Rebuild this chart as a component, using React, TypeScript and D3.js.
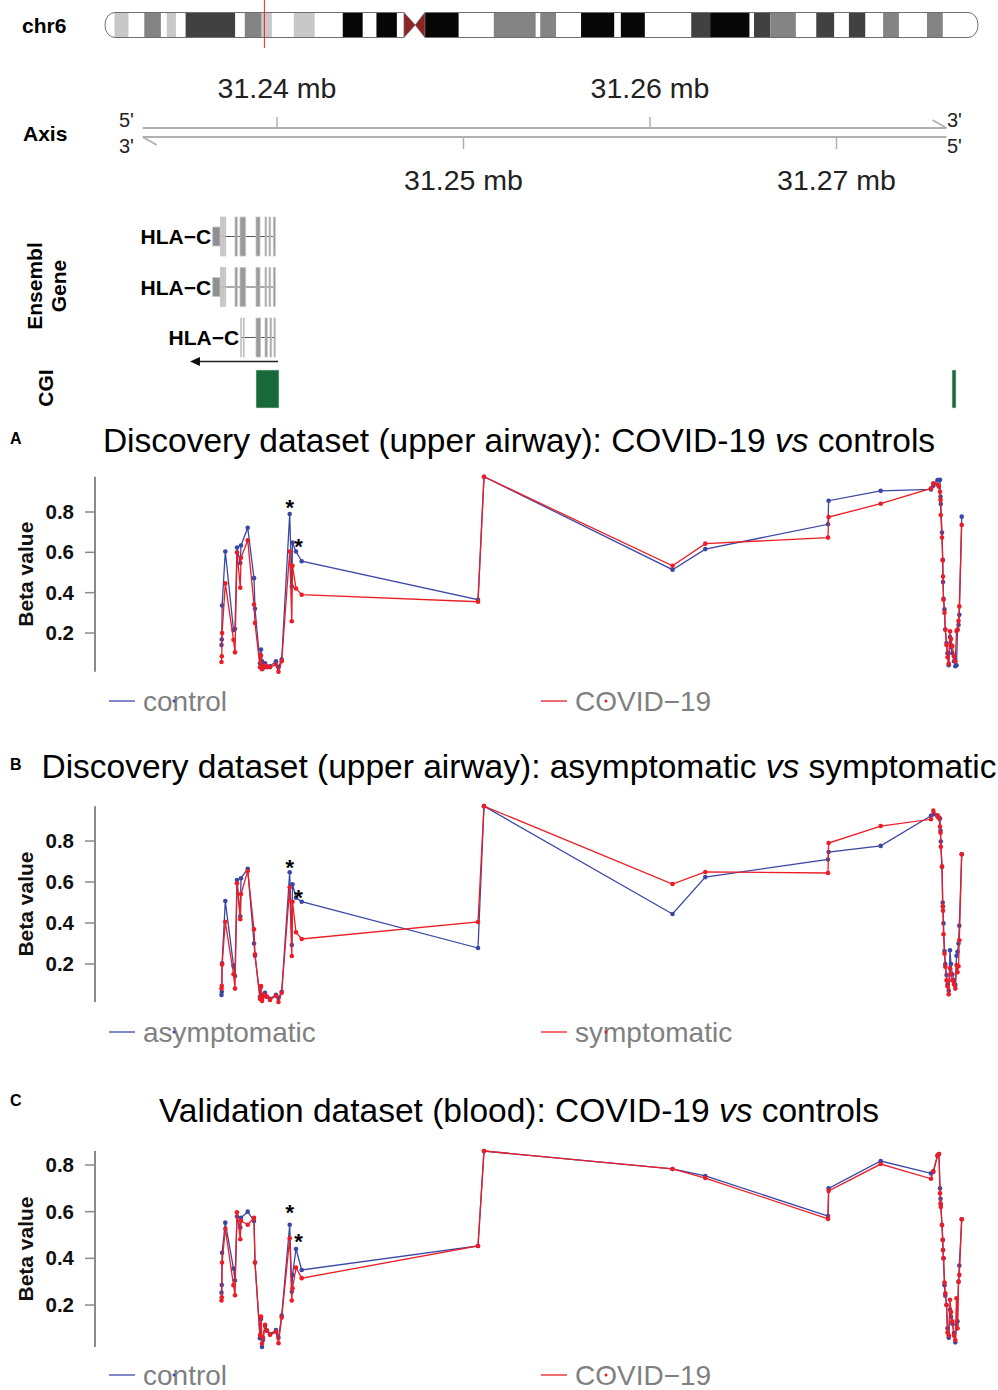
import React from "react";
import * as d3 from "d3";

const FONT = "'Liberation Sans', Arial, Helvetica, sans-serif";
const BLUE = "#3B47A6";
const RED = "#EC1D25";

// ---------- Ideogram (chr6, Mb) ----------
const chr6Length = 171.1;
const bandStart = [1.86, 7.7, 12.1, 15.8, 27.4, 30.7, 37.0, 46.6, 53.2, 62.7, 76.2, 85.3, 93.3, 101.1, 114.9, 118.6, 127.2, 130.4, 139.4, 145.8, 152.5, 161.1];
const bandEnd = [4.6, 10.95, 13.9, 25.5, 30.7, 32.7, 41.1, 50.5, 57.2, 69.3, 84.4, 88.4, 99.8, 105.8, 118.6, 126.3, 130.4, 135.4, 142.9, 149.0, 155.6, 164.2];
const bandStain = ["gpos25", "gpos50", "gpos25", "gpos75", "gpos50", "gpos25", "gpos25", "gpos100", "gpos100", "gpos100", "gpos50", "gpos50", "gpos100", "gpos100", "gpos75", "gpos100", "gpos75", "gpos50", "gpos75", "gpos75", "gpos50", "gpos50"];
const centromereMb = [58.6, 60.8, 62.7];
const highlightMb = 31.24;
const stainColor: Record<string, string> = { gpos25: "#C8C8C8", gpos50: "#848484", gpos75: "#414141", gpos100: "#070707" };

// ---------- Genome axis ----------
const axisTicksBp = [31240000, 31250000, 31260000, 31270000];
const axisRangeBp = [31232800, 31275900];

// ---------- Gene models ----------
const geneLabels = ["HLA\u2212C", "HLA\u2212C", "HLA\u2212C"];
const tx1Starts = [31236552, 31236975, 31237085, 31237195, 31237748, 31238016, 31238874, 31239357, 31239571, 31239802];
const tx1Ends = [31236944, 31237030, 31237140, 31237250, 31237871, 31238322, 31239088, 31239448, 31239662, 31239909];
const tx1Utr = [true, false, false, false, false, false, false, false, false, false];
const tx3Starts = [31238054, 31238193, 31238874, 31239357, 31239625, 31239839];
const tx3Ends = [31238100, 31238240, 31239126, 31239480, 31239716, 31239909];
const tx3Utr = [false, false, false, false, false, false];
const geneArrowBp = [31240054, 31235335];

// ---------- CpG islands ----------
const cgiStart = [31238874, 31276194];
const cgiEnd = [31240107, 31276408];

// ---------- CpG probes and beta values ----------
const cpgPositions = [31237024, 31237040, 31237056, 31237228, 31237668, 31237748, 31237855, 31238032, 31238070, 31238429, 31238767, 31238820, 31239088, 31239142, 31239196, 31239249, 31239357, 31239464, 31239625, 31239946, 31240080, 31240252, 31240681, 31240794, 31240831, 31241019, 31241324, 31250778, 31251099, 31261207, 31262966, 31269545, 31269577, 31272370, 31275067, 31275191, 31275416, 31275496, 31275550, 31275577, 31275593, 31275657, 31275695, 31275711, 31275738, 31275791, 31275834, 31275899, 31275952, 31276017, 31276086, 31276140, 31276210, 31276301, 31276370, 31276435, 31276488, 31276542, 31276585, 31276714];

const discControl = [0.14, 0.168, 0.336, 0.604, 0.215, 0.22, 0.624, 0.547, 0.634, 0.722, 0.472, 0.32, 0.05, 0.118, 0.06, 0.04, 0.05, 0.03, 0.035, 0.06, 0.03, 0.069, 0.79, 0.431, 0.648, 0.604, 0.556, 0.365, 0.975, 0.514, 0.616, 0.739, 0.856, 0.905, 0.912, 0.93, 0.958, 0.958, 0.96, 0.876, 0.84, 0.698, 0.563, 0.453, 0.37, 0.318, 0.217, 0.15, 0.1, 0.04, 0.18, 0.13, 0.1, 0.06, 0.035, 0.04, 0.215, 0.24, 0.29, 0.777];
const discCovid = [0.056, 0.085, 0.2, 0.446, 0.166, 0.104, 0.599, 0.425, 0.573, 0.66, 0.341, 0.25, 0.03, 0.089, 0.02, 0.025, 0.04, 0.035, 0.03, 0.044, 0.008, 0.06, 0.604, 0.258, 0.533, 0.421, 0.39, 0.355, 0.975, 0.533, 0.643, 0.673, 0.775, 0.841, 0.917, 0.942, 0.935, 0.925, 0.9, 0.86, 0.785, 0.673, 0.56, 0.48, 0.365, 0.3, 0.217, 0.14, 0.08, 0.048, 0.209, 0.17, 0.135, 0.085, 0.06, 0.21, 0.217, 0.26, 0.332, 0.736];
const discAsymptomatic = [0.049, 0.065, 0.203, 0.507, 0.192, 0.141, 0.61, 0.433, 0.618, 0.665, 0.3, 0.24, 0.04, 0.089, 0.03, 0.05, 0.06, 0.04, 0.03, 0.05, 0.035, 0.065, 0.647, 0.293, 0.589, 0.523, 0.504, 0.278, 0.97, 0.444, 0.624, 0.71, 0.746, 0.776, 0.923, 0.93, 0.92, 0.914, 0.91, 0.85, 0.797, 0.675, 0.5, 0.48, 0.398, 0.263, 0.2, 0.146, 0.1, 0.07, 0.267, 0.2, 0.15, 0.12, 0.098, 0.24, 0.26, 0.3, 0.387, 0.735];
const discSymptomatic = [0.08, 0.094, 0.198, 0.406, 0.15, 0.08, 0.594, 0.418, 0.541, 0.654, 0.369, 0.247, 0.03, 0.093, 0.02, 0.04, 0.05, 0.04, 0.025, 0.045, 0.015, 0.06, 0.574, 0.239, 0.504, 0.355, 0.322, 0.405, 0.97, 0.59, 0.649, 0.644, 0.79, 0.873, 0.906, 0.948, 0.925, 0.91, 0.87, 0.84, 0.772, 0.675, 0.48, 0.46, 0.345, 0.25, 0.187, 0.12, 0.09, 0.052, 0.179, 0.15, 0.12, 0.1, 0.08, 0.195, 0.16, 0.189, 0.316, 0.735];
const valControl = [0.253, 0.286, 0.424, 0.553, 0.356, 0.305, 0.579, 0.532, 0.574, 0.6, 0.56, 0.382, 0.058, 0.14, 0.02, 0.05, 0.11, 0.09, 0.075, 0.093, 0.06, 0.155, 0.544, 0.257, 0.329, 0.44, 0.35, 0.453, 0.86, 0.783, 0.753, 0.581, 0.7, 0.817, 0.764, 0.77, 0.84, 0.847, 0.7, 0.655, 0.63, 0.543, 0.479, 0.436, 0.4, 0.285, 0.24, 0.2, 0.1, 0.06, 0.18, 0.15, 0.12, 0.08, 0.04, 0.115, 0.13, 0.3, 0.369, 0.567];
const valCovid = [0.219, 0.233, 0.382, 0.527, 0.285, 0.242, 0.597, 0.482, 0.561, 0.544, 0.574, 0.382, 0.071, 0.15, 0.035, 0.06, 0.115, 0.09, 0.072, 0.085, 0.036, 0.146, 0.486, 0.219, 0.272, 0.36, 0.315, 0.453, 0.86, 0.783, 0.744, 0.569, 0.689, 0.804, 0.741, 0.774, 0.84, 0.847, 0.679, 0.636, 0.62, 0.543, 0.479, 0.436, 0.4, 0.296, 0.25, 0.2, 0.082, 0.07, 0.222, 0.17, 0.13, 0.068, 0.05, 0.229, 0.1, 0.3, 0.329, 0.567];

const starPositions = [31240681, 31241150];
const starValuesA = [0.845, 0.652];
const starValuesB = [0.695, 0.55];
const starValuesC = [0.62, 0.495];

const yTicks = [0.2, 0.4, 0.6, 0.8];

const panels = [
  { letter: "A", title: ["Discovery dataset (upper airway): COVID-19 ", "vs", " controls"], series: [discControl, discCovid], names: ["control", "COVID\u221219"], stars: starValuesA, letterY: 444, titleY: 452, y08: 512, y02: 633, legendY: 701 },
  { letter: "B", title: ["Discovery dataset (upper airway): asymptomatic ", "vs", " symptomatic"], series: [discAsymptomatic, discSymptomatic], names: ["asymptomatic", "symptomatic"], stars: starValuesB, letterY: 770, titleY: 778, y08: 841, y02: 964, legendY: 1032 },
  { letter: "C", title: ["Validation dataset (blood): COVID-19 ", "vs", " controls"], series: [valControl, valCovid], names: ["control", "COVID\u221219"], stars: starValuesC, letterY: 1106, titleY: 1122, y08: 1165, y02: 1305, legendY: 1375 },
];

const xg = d3.scaleLinear().domain([31240000, 31260000]).range([277, 650]);
const xi = d3.scaleLinear().domain([0, chr6Length]).range([105, 978]);

function Panel({ p }: { p: (typeof panels)[number] }) {
  const y = d3.scaleLinear().domain([0.8, 0.2]).range([p.y08, p.y02]);
  const all = [...p.series[0], ...p.series[1]];
  const [vmin, vmax] = d3.extent(all) as [number, number];
  const colors = [BLUE, RED];
  const line = d3.line<number>().x((_, i) => xg(cpgPositions[i])).y((v) => y(v));
  return (
    <g>
      <text x={10} y={p.letterY} fontSize={16} fontWeight="bold">{p.letter}</text>
      <text x={519} y={p.titleY} fontSize={33.5} textAnchor="middle" fill="#000">
        <tspan>{p.title[0]}</tspan>
        <tspan fontStyle="italic">{p.title[1]}</tspan>
        <tspan>{p.title[2]}</tspan>
      </text>
      <line x1={95} x2={95} y1={y(vmax)} y2={y(vmin)} stroke="#8a8a8a" strokeWidth={2} />
      {yTicks.map((t) => (
        <g key={t}>
          <line x1={85} x2={95} y1={y(t)} y2={y(t)} stroke="#8a8a8a" strokeWidth={1.5} />
          <text x={74} y={y(t) + 7} fontSize={20.5} fontWeight="bold" textAnchor="end" fill="#111">{t.toFixed(1)}</text>
        </g>
      ))}
      <text transform={`translate(33,${(y(vmax) + y(vmin)) / 2}) rotate(-90)`} fontSize={21} fontWeight="bold" textAnchor="middle" fill="#111">Beta value</text>
      {p.series.map((s, si) => (
        <g key={si}>
          <path d={line(s) || ""} fill="none" stroke={colors[si]} strokeWidth={1.3} />
          {s.map((v, i) => (
            <circle key={i} cx={xg(cpgPositions[i])} cy={y(v)} r={2.3} fill={colors[si]} />
          ))}
        </g>
      ))}
      {starPositions.map((pos, i) => (
        <text key={i} x={xg(pos)} y={y(p.stars[i]) + 12.5} fontSize={22} fontWeight="bold" textAnchor="middle">*</text>
      ))}
      {p.names.map((n, i) => {
        const lx = i === 0 ? 109 : 541;
        return (
          <g key={n}>
            <line x1={lx} x2={lx + 26} y1={p.legendY} y2={p.legendY} stroke={colors[i]} strokeWidth={1.3} />
            <text x={lx + 34} y={p.legendY + 9.5} fontSize={28} fill="#808080">{n}</text>
            <circle cx={lx + 65} cy={p.legendY} r={1.5} fill={colors[i]} />
          </g>
        );
      })}
    </g>
  );
}

function Transcript({ starts, ends, utr, cy, label }: { starts: number[]; ends: number[]; utr: boolean[]; cy: number; label: string }) {
  const x0 = xg(starts[0]);
  const x1 = xg(ends[ends.length - 1]);
  return (
    <g>
      <line x1={x0} x2={x1} y1={cy} y2={cy} stroke="#555" strokeWidth={1} />
      {starts.map((s, i) => {
        const h = utr[i] ? 19 : 39;
        return (
          <rect key={i} x={xg(s)} y={cy - h / 2} width={Math.max(xg(ends[i]) - xg(s), 0.8)} height={h} fill={utr[i] ? "#8f8f8f" : "#9a9a9a"} stroke="#c6c6c6" strokeWidth={0.8} />
        );
      })}
      <text x={x0 - 1.5} y={cy + 7.5} fontSize={21} fontWeight="bold" textAnchor="end" fill="#000">{label}</text>
    </g>
  );
}

export default function App() {
  const cenL = xi(centromereMb[0]);
  const cenM = xi(centromereMb[1]);
  const cenR = xi(centromereMb[2]);
  const iTop = 12.5, iBot = 37.5, iMid = 25;
  return (
    <svg width={998} height={1390} style={{ position: "absolute", left: 0, top: 0, background: "#fff" }} fontFamily={FONT}>
      <rect width={998} height={1390} fill="#fff" />
      {/* Ideogram */}
      <text x={22} y={33} fontSize={21} fontWeight="bold">chr6</text>
      <defs>
        <clipPath id="ideo">
          <rect x={xi(0)} y={iTop} width={xi(chr6Length) - xi(0)} height={iBot - iTop} rx={10} ry={12} />
        </clipPath>
      </defs>
      <g clipPath="url(#ideo)">
        <rect x={xi(0)} y={iTop} width={xi(chr6Length) - xi(0)} height={iBot - iTop} fill="#fff" />
        {bandStart.map((b, i) => (
          <rect key={i} x={xi(b)} y={iTop} width={xi(bandEnd[i]) - xi(b)} height={iBot - iTop} fill={stainColor[bandStain[i]]} />
        ))}
      </g>
      <rect x={xi(0)} y={iTop} width={xi(chr6Length) - xi(0)} height={iBot - iTop} rx={10} ry={12} fill="none" stroke="#6e6e6e" strokeWidth={1} />
      <polygon points={`${cenL - 1},${iTop - 1} ${cenR + 1},${iTop - 1} ${cenM},${iMid}`} fill="#fff" />
      <polygon points={`${cenL - 1},${iBot + 1} ${cenR + 1},${iBot + 1} ${cenM},${iMid}`} fill="#fff" />
      <polygon points={`${cenL},${iTop} ${cenM},${iMid} ${cenL},${iBot}`} fill="#8E2323" stroke="#6e6e6e" strokeWidth={0.8} />
      <polygon points={`${cenR},${iTop} ${cenM},${iMid} ${cenR},${iBot}`} fill="#8E2323" stroke="#6e6e6e" strokeWidth={0.8} />
      <line x1={xi(highlightMb)} x2={xi(highlightMb)} y1={0} y2={48} stroke="#E8262B" strokeWidth={1} />

      {/* Genome axis */}
      <text x={23} y={141} fontSize={21} fontWeight="bold">Axis</text>
      <line x1={xg(axisRangeBp[0])} x2={xg(axisRangeBp[1])} y1={128} y2={128} stroke="#b0b0b0" strokeWidth={2} />
      <line x1={xg(axisRangeBp[1]) - 14} x2={xg(axisRangeBp[1])} y1={120} y2={128} stroke="#b0b0b0" strokeWidth={2} />
      <line x1={xg(axisRangeBp[0])} x2={xg(axisRangeBp[1])} y1={137} y2={137} stroke="#b0b0b0" strokeWidth={2} />
      <line x1={xg(axisRangeBp[0])} x2={xg(axisRangeBp[0]) + 14} y1={137} y2={145} stroke="#b0b0b0" strokeWidth={2} />
      <text x={119} y={127} fontSize={20} fill="#222">5'</text>
      <text x={119} y={153} fontSize={20} fill="#222">3'</text>
      <text x={947} y={127} fontSize={20} fill="#222">3'</text>
      <text x={947} y={153} fontSize={20} fill="#222">5'</text>
      {axisTicksBp.map((t, i) => {
        const up = i % 2 === 0;
        return (
          <g key={t}>
            <line x1={xg(t)} x2={xg(t)} y1={up ? 117 : 137} y2={up ? 128 : 149} stroke="#b0b0b0" strokeWidth={1.5} />
            <text x={xg(t)} y={up ? 98 : 190} fontSize={28.5} textAnchor="middle" fill="#222">{`${(t / 1e6).toFixed(2)} mb`}</text>
          </g>
        );
      })}

      {/* Gene track */}
      <text transform="translate(41.5,286) rotate(-90)" fontSize={21} fontWeight="bold" textAnchor="middle">Ensembl</text>
      <text transform="translate(66,286) rotate(-90)" fontSize={21} fontWeight="bold" textAnchor="middle">Gene</text>
      <Transcript starts={tx1Starts} ends={tx1Ends} utr={tx1Utr} cy={236.5} label={geneLabels[0]} />
      <Transcript starts={tx1Starts} ends={tx1Ends} utr={tx1Utr} cy={287} label={geneLabels[1]} />
      <Transcript starts={tx3Starts} ends={tx3Ends} utr={tx3Utr} cy={337.5} label={geneLabels[2]} />
      <line x1={xg(geneArrowBp[0])} x2={xg(geneArrowBp[1]) + 8} y1={361.5} y2={361.5} stroke="#222" strokeWidth={1.3} />
      <polygon points={`${xg(geneArrowBp[1])},361.5 ${xg(geneArrowBp[1]) + 10},357 ${xg(geneArrowBp[1]) + 10},366`} fill="#111" />

      {/* CGI track */}
      <text transform="translate(53,388) rotate(-90)" fontSize={21} fontWeight="bold" textAnchor="middle">CGI</text>
      {cgiStart.map((s, i) => (
        <rect key={i} x={xg(s)} y={370} width={Math.max(xg(cgiEnd[i]) - xg(s), 4)} height={38} fill="#17693A" stroke="#cfe0d4" strokeWidth={0.6} />
      ))}

      {panels.map((p) => (
        <Panel key={p.letter} p={p} />
      ))}
    </svg>
  );
}
